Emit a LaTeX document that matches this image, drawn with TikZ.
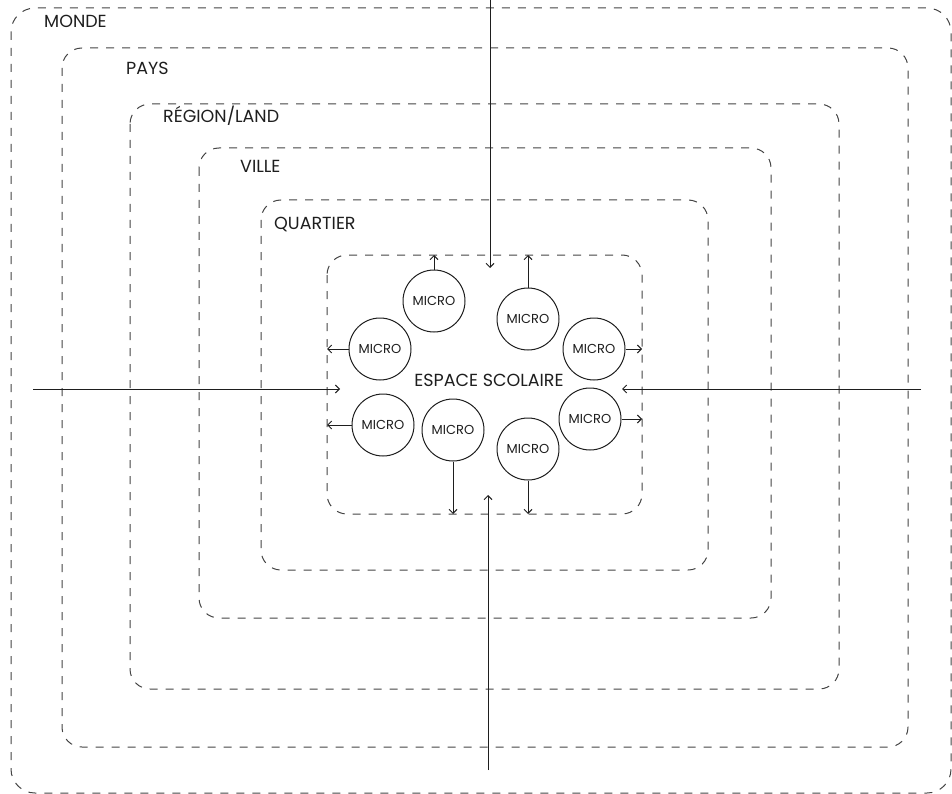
\documentclass[tikz,border=0pt]{standalone}
\usepackage{fontspec}
\setmainfont{Poppins}
\usetikzlibrary{arrows.meta}
\definecolor{ln}{HTML}{1E1E1E}
\definecolor{dl}{HTML}{444444}
\tikzset{
  zone/.style={draw=dl, line width=1pt, dash pattern=on 8pt off 8pt, rounded corners=20pt},
  zonelabel/.style={anchor=west, font=\fontsize{17.5}{17.5}\selectfont, text=ln, inner sep=0pt},
  micro/.style={circle, draw=ln, line width=1pt, minimum size=62pt, inner sep=0pt, font=\fontsize{13}{13}\selectfont, text=ln},
  arr/.style={draw=ln, line width=1pt, -{Straight Barb[length=4pt,width=8pt]}},
}
\begin{document}
\begin{tikzpicture}[x=1pt,y=-1pt]
\useasboundingbox (0,0) rectangle (952,794);
% zones
\draw[zone, rounded corners=24pt] (11,8) rectangle (951,793);
\draw[zone] (62,48) rectangle (908,747);
\draw[zone] (130,104) rectangle (839,689);
\draw[zone] (199,148) rectangle (771,618);
\draw[zone] (261,200) rectangle (708,570);
\draw[zone] (327,255) rectangle (642,514);
% labels
\node[zonelabel] (monde) at (44,21) {MONDE};
\node[zonelabel] (pays) at (126,68) {PAYS};
\node[zonelabel] (region) at (163,116) {RÉGION/LAND};
\node[zonelabel] (ville) at (240,166) {VILLE};
\node[zonelabel] (quartier) at (274,224) {QUARTIER};
\node[font=\fontsize{17.5}{17.5}\selectfont, text=ln, inner sep=0pt] (espace) at (489,380) {ESPACE SCOLAIRE};
% micro circles
\node[micro] (m1) at (434,301) {MICRO};
\node[micro] (m2) at (528,319) {MICRO};
\node[micro] (m3) at (380,349) {MICRO};
\node[micro] (m4) at (594,349) {MICRO};
\node[micro] (m5) at (590,419) {MICRO};
\node[micro] (m6) at (383,425) {MICRO};
\node[micro] (m7) at (453,430) {MICRO};
\node[micro] (m8) at (528,449) {MICRO};
% micro arrow ends
\coordinate (e1) at (434,255);
\coordinate (e2) at (528,255);
\coordinate (e3) at (327,349);
\coordinate (e4) at (642,349);
\coordinate (e5) at (642,419);
\coordinate (e6) at (327,425);
\coordinate (e7) at (453,514);
\coordinate (e8) at (528,514);
\draw[arr] (m1.north) -- (e1);
\draw[arr] (m2.north) -- (e2);
\draw[arr] (m3.west) -- (e3);
\draw[arr] (m4.east) -- (e4);
\draw[arr] (m5.east) -- (e5);
\draw[arr] (m6.west) -- (e6);
\draw[arr] (m7.south) -- (e7);
\draw[arr] (m8.south) -- (e8);
% external arrows
\coordinate (ts) at (490,0);
\coordinate (te) at (490,268);
\coordinate (ls) at (33,389);
\coordinate (le) at (340,389);
\coordinate (rs) at (921,389);
\coordinate (re) at (622,389);
\coordinate (bs) at (488,770);
\coordinate (be) at (488,495);
\draw[arr] (ts) -- (te);
\draw[arr] (ls) -- (le);
\draw[arr] (rs) -- (re);
\draw[arr] (bs) -- (be);
\end{tikzpicture}
\end{document}
